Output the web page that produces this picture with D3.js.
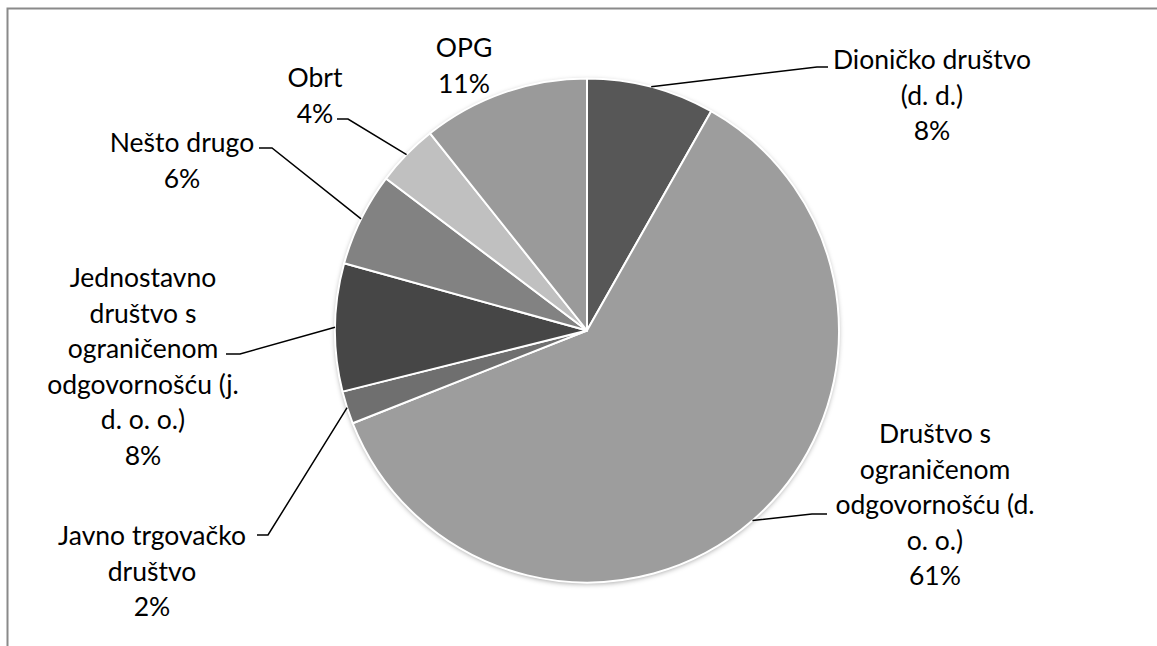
<!DOCTYPE html>
<html>
<head>
<meta charset="utf-8">
<script src="https://cdn.jsdelivr.net/npm/d3@7"></script>
<style>
  body { margin: 0; background: #fff; }
  svg text { font-family: Lato, "Open Sans", sans-serif; fill: #000; }
</style>
</head>
<body>
<svg id="chart" width="1157" height="646"></svg>
<script>
// category names (line breaks as in the original labels)
const categories = [
  "Dioničko društvo\n(d. d.)",
  "Društvo s\nograničenom\nodgovornošću (d.\no. o.)",
  "Javno trgovačko\ndruštvo",
  "Jednostavno\ndruštvo s\nograničenom\nodgovornošću (j.\nd. o. o.)",
  "Nešto drugo",
  "Obrt",
  "OPG"
];
const shares = [8.2, 60.8, 2.1, 8.2, 6.0, 4.0, 10.7];
const colors = ["#575757", "#9d9d9d", "#6f6f6f", "#464646", "#828282", "#c0c0c0", "#9a9a9a"];

// label layout: text centre x, first line y, elbow point of leader (null = no leader), side of elbow
const labelPos = [
  {x: 932, y: 59, elbow: [817, 67], end: [828, 67]},
  {x: 935, y: 433, elbow: [812, 514], end: [827, 514]},
  {x: 152, y: 535, elbow: [268, 535], end: [257, 535]},
  {x: 143, y: 277, elbow: [240, 354], end: [226, 354]},
  {x: 182, y: 142, elbow: [272, 148], end: [259, 148]},
  {x: 315, y: 77, elbow: [348, 119], end: [337, 119]},
  {x: 464, y: 47, elbow: null}
];

const svg = d3.select("#chart");
const cx = 587, cy = 330.5, r = 252;
const lineH = 35.5;

// outer frame
svg.append("rect").attr("x", 7.5).attr("y", 8.5).attr("width", 1300).attr("height", 800)
  .attr("fill", "none").attr("stroke", "#8a8a8a").attr("stroke-width", 2);

const defs = svg.append("defs");
const f = defs.append("filter").attr("id", "shadow").attr("x", "-10%").attr("y", "-10%").attr("width", "120%").attr("height", "120%");
f.append("feDropShadow").attr("dx", 0).attr("dy", 1.5).attr("stdDeviation", 2.5)
  .attr("flood-color", "#000").attr("flood-opacity", 0.35);

const pie = d3.pie().sort(null).value(d => d);
const arcs = pie(shares);
const arc = d3.arc().innerRadius(0).outerRadius(r);
const edge = d3.arc().innerRadius(r).outerRadius(r);

const g = svg.append("g").attr("transform", `translate(${cx},${cy})`);
g.append("circle").attr("r", r).attr("fill", "#9d9d9d").attr("filter", "url(#shadow)");
g.selectAll("path.slice").data(arcs).join("path")
  .attr("class", "slice")
  .attr("d", arc)
  .attr("fill", (d, i) => colors[i])
  .attr("stroke", "#fff").attr("stroke-width", 2).attr("stroke-linejoin", "round");

// leader lines
arcs.forEach((d, i) => {
  const p = labelPos[i];
  if (!p.elbow) return;
  const c = edge.centroid(d);
  const s = [cx + c[0], cy + c[1]];
  svg.append("polyline")
    .attr("points", [s, p.elbow, p.end].map(q => q.join(",")).join(" "))
    .attr("fill", "none").attr("stroke", "#000").attr("stroke-width", 1.5);
});

// labels
categories.forEach((name, i) => {
  const p = labelPos[i];
  const lines = name.split("\n").concat([Math.round(shares[i]) + "%"]);
  const t = svg.append("text").attr("text-anchor", "middle").attr("font-size", 26.5)
    .attr("dominant-baseline", "central");
  lines.forEach((ln, k) => {
    t.append("tspan").attr("x", p.x).attr("y", p.y + k * lineH).text(ln);
  });
});
</script>
</body>
</html>
